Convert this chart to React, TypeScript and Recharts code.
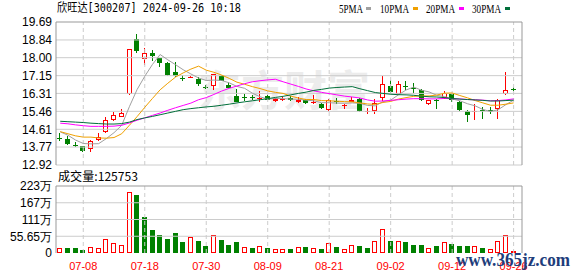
import React from "react";
import { ComposedChart, Bar, Line, XAxis, YAxis, ReferenceLine } from "recharts";

// 60 trading days, 07-03 .. 09-26
const dates = [
  "07-03", "07-04", "07-05", "07-08", "07-09", "07-10", "07-11", "07-12", "07-15", "07-16",
  "07-17", "07-18", "07-19", "07-22", "07-23", "07-24", "07-25", "07-26", "07-29", "07-30",
  "07-31", "08-01", "08-02", "08-05", "08-06", "08-07", "08-08", "08-09", "08-12", "08-13",
  "08-14", "08-15", "08-16", "08-19", "08-20", "08-21", "08-22", "08-23", "08-26", "08-27",
  "08-28", "08-29", "08-30", "09-02", "09-03", "09-04", "09-05", "09-06", "09-09", "09-10",
  "09-11", "09-12", "09-13", "09-18", "09-19", "09-20", "09-23", "09-24", "09-25", "09-26",
];

const open = [
  14.22, 14.14, 13.88, 13.8, 13.66, 14.08, 14.5, 15.05, 15.2, 16.27,
  18.88, 17.94, 18.23, 17.97, 17.73, 17.31, 17.06, 17.08, 17.0, 16.62,
  16.68, 17.15, 16.72, 16.21, 16.15, 16.12, 16.06, 16.17, 15.93, 16.0,
  16.1, 15.92, 15.98, 15.88, 15.82, 15.52, 15.95, 15.7, 15.9, 16.06,
  15.45, 15.47, 16.1, 16.68, 16.3, 16.65, 16.55, 16.45, 15.82, 16.0,
  16.1, 16.26, 15.9, 15.5, 15.44, 15.52, 15.52, 15.58, 16.29, 16.52,
];
const high = [
  14.45, 14.28, 14.0, 13.82, 14.08, 14.45, 15.2, 15.42, 15.58, 18.43,
  19.11, 18.45, 18.38, 18.0, 17.8, 17.78, 17.2, 17.14, 17.1, 16.7,
  17.25, 17.2, 16.85, 16.5, 16.28, 16.22, 16.4, 16.22, 16.1, 16.15,
  16.2, 16.12, 16.05, 16.25, 15.85, 16.05, 16.1, 15.8, 16.12, 16.1,
  15.6, 16.05, 17.15, 16.93, 16.92, 16.92, 16.78, 16.5, 16.0, 16.05,
  16.4, 16.3, 15.95, 15.52, 15.8, 15.65, 15.68, 16.05, 17.31, 16.6,
];
const low = [
  14.05, 13.88, 13.75, 13.53, 13.53, 14.05, 14.42, 15.0, 15.18, 16.25,
  18.22, 17.65, 17.83, 17.55, 17.12, 17.08, 16.92, 17.04, 16.68, 16.52,
  16.45, 16.9, 16.55, 15.88, 15.95, 16.0, 15.9, 15.98, 15.92, 15.95,
  15.97, 15.85, 15.8, 15.8, 15.55, 15.48, 15.82, 15.55, 15.88, 15.45,
  15.35, 15.33, 15.95, 16.35, 16.25, 16.45, 16.35, 15.96, 15.78, 15.55,
  16.05, 15.9, 15.5, 14.96, 15.07, 15.12, 15.33, 15.1, 16.25, 16.4,
];
const close = [
  14.2, 13.9, 13.85, 13.6, 14.06, 14.25, 15.07, 15.27, 15.36, 18.43,
  18.3, 18.22, 18.07, 17.73, 17.2, 17.11, 17.03, 17.1, 16.76, 16.6,
  17.22, 16.92, 16.57, 15.9, 16.12, 16.1, 16.09, 16.01, 16.06, 16.06,
  16.02, 16.0, 15.84, 15.9, 15.6, 16.0, 15.92, 15.78, 16.0, 15.5,
  15.48, 15.85, 16.76, 16.37, 16.76, 16.62, 16.52, 16.02, 15.98, 15.97,
  16.32, 15.98, 15.54, 15.27, 15.47, 15.49, 15.46, 16.02, 16.48, 16.5,
];

const ma5 = [
  14.49, 14.33, 14.1, 13.94, 13.92, 13.93, 14.17, 14.45, 14.8, 15.68,
  16.49, 17.12, 17.68, 18.15, 17.9, 17.67, 17.43, 17.23, 17.04, 16.92,
  16.94, 16.92, 16.81, 16.64, 16.55, 16.32, 16.15, 16.04, 16.07, 16.06,
  16.04, 16.03, 15.99, 15.96, 15.87, 15.87, 15.85, 15.84, 15.86, 15.84,
  15.74, 15.72, 15.92, 15.99, 16.24, 16.47, 16.61, 16.46, 16.38, 16.22,
  16.16, 16.05, 15.96, 15.82, 15.72, 15.55, 15.45, 15.54, 15.78, 15.99,
];
const ma10 = [
  14.5, 14.4, 14.3, 14.24, 14.24, 14.2, 14.19, 14.22, 14.4, 14.8,
  15.21, 15.65, 16.07, 16.48, 16.79, 17.08, 17.28, 17.46, 17.6, 17.41,
  17.31, 17.18, 17.02, 16.84, 16.74, 16.63, 16.54, 16.43, 16.36, 16.31,
  16.18, 16.09, 16.02, 16.02, 15.97, 15.96, 15.94, 15.92, 15.91, 15.86,
  15.81, 15.79, 15.88, 15.93, 16.04, 16.11, 16.17, 16.19, 16.19, 16.23,
  16.32, 16.33, 16.21, 16.1, 15.97, 15.86, 15.75, 15.75, 15.8, 15.86,
];
const ma20 = [
  14.9, 14.87, 14.82, 14.78, 14.75, 14.75, 14.75, 14.76, 14.8, 14.91,
  15.04, 15.15, 15.27, 15.38, 15.51, 15.63, 15.74, 15.85, 16.01, 16.11,
  16.26, 16.42, 16.55, 16.66, 16.77, 16.86, 16.91, 16.95, 16.98, 16.86,
  16.75, 16.64, 16.52, 16.43, 16.36, 16.3, 16.24, 16.18, 16.14, 16.09,
  16.0, 15.94, 15.95, 15.98, 16.01, 16.04, 16.06, 16.06, 16.05, 16.05,
  16.07, 16.06, 16.05, 16.02, 16.01, 15.99, 15.96, 15.97, 16.0, 16.05,
];
const ma30 = [
  14.99, 14.97, 14.95, 14.93, 14.9, 14.88, 14.86, 14.86, 14.88, 14.95,
  15.07, 15.15, 15.22, 15.3, 15.38, 15.46, 15.54, 15.59, 15.63, 15.67,
  15.7, 15.75, 15.8, 15.86, 15.91, 15.96, 16.01, 16.06, 16.12, 16.17,
  16.24, 16.31, 16.37, 16.45, 16.5, 16.56, 16.59, 16.61, 16.63, 16.53,
  16.44, 16.35, 16.31, 16.27, 16.25, 16.24, 16.22, 16.18, 16.15, 16.14,
  16.11, 16.07, 16.04, 16.02, 16.0, 15.98, 15.95, 15.95, 15.97, 15.99,
];

// volume in 万, and whether the bar is drawn as an up (red) day
const volume = [
  16.2, 15, 15, 11, 19.5, 16, 45, 32.5, 26, 203,
  192, 120, 75.6, 59.4, 46.5, 66, 37.8, 52, 41, 23.8,
  58.4, 43, 27, 36.7, 19.5, 17.3, 21.6, 17.3, 13, 13,
  14, 18.4, 19.5, 16.2, 14, 32.4, 19.5, 13, 26, 23.8,
  17.3, 41, 79, 41, 41, 37.8, 27, 27, 17.3, 21.6,
  36.7, 30.3, 23.8, 23.8, 23.8, 15, 14, 40, 59.4, 8,
];
const volumeUp = [
  1, 0, 0, 0, 1, 1, 1, 1, 1, 1,
  0, 0, 0, 0, 0, 0, 0, 1, 0, 0,
  1, 0, 0, 0, 1, 0, 1, 0, 1, 1,
  0, 1, 0, 1, 0, 1, 0, 1, 1, 0,
  0, 1, 1, 0, 1, 0, 0, 0, 1, 0,
  1, 0, 0, 0, 1, 0, 1, 1, 1, 1,
];

const priceTicks = [12.92, 13.77, 14.61, 15.46, 16.31, 17.15, 18.0, 18.84, 19.69];
const volumeTicks = [0, 55.65, 111.3, 166.95, 222.6];
const volumeTickLabels = ["0", "55.65万", "111万", "167万", "223万"];
const dateTicks = [3, 11, 19, 27, 35, 43, 51, 59];

const X_MIN = -0.55;
const X_MAX = 60.09;
const UP = "#ff0000";
const DOWN = "#008000";
const GRID = "#cccccc";
const BORDER = "#999999";
const AXIS_FONT = "'Liberation Sans', Arial, sans-serif";

const rows = dates.map((d, i) => ({
  i,
  date: d,
  open: open[i],
  high: high[i],
  low: low[i],
  close: close[i],
  ma5: ma5[i],
  ma10: ma10[i],
  ma20: ma20[i],
  ma30: ma30[i],
  vol: volume[i],
  up: volumeUp[i] === 1,
}));

function Candle(props: any) {
  const { x, y, width, height, payload } = props;
  if (x == null || y == null || !payload) return null;
  const { open: o, close: c, high: h, low: l } = payload;
  const top = Math.min(y, y + height);
  const span = Math.abs(height);
  const toY = (p: number) => (h === l ? top : top + ((h - p) / (h - l)) * span);
  const left = Math.round(x + width / 2 - 2.5);
  const cx = left + 2.5;
  const yHigh = Math.round(toY(h));
  const yLow = Math.round(toY(l));
  const t = Math.round(toY(Math.max(o, c)));
  const b = Math.round(toY(Math.min(o, c)));
  const isUp = c >= o;
  const color = isUp ? UP : DOWN;

  if (b - t < 2) {
    return (
      <g>
        <line x1={cx} x2={cx} y1={yHigh} y2={yLow} stroke={color} strokeWidth={1} />
        <rect x={left} y={t} width={5} height={Math.max(b - t, 1)} fill={color} />
      </g>
    );
  }
  if (isUp) {
    return (
      <g>
        <line x1={cx} x2={cx} y1={yHigh} y2={t} stroke={color} strokeWidth={1} />
        <line x1={cx} x2={cx} y1={b} y2={yLow} stroke={color} strokeWidth={1} />
        <rect x={left + 0.5} y={t + 0.5} width={4} height={b - t - 1} fill="#ffffff" stroke={color} strokeWidth={1} />
      </g>
    );
  }
  return (
    <g>
      <line x1={cx} x2={cx} y1={yHigh} y2={yLow} stroke={color} strokeWidth={1} />
      <rect x={left} y={t} width={5} height={b - t} fill={color} />
    </g>
  );
}

function VolumeBar(props: any) {
  const { x, y, width, height, payload } = props;
  if (x == null || y == null || !payload) return null;
  const left = Math.round(x + width / 2 - 2.5);
  const top = Math.round(Math.min(y, y + height));
  const bottom = Math.round(Math.max(y, y + height));
  if (payload.up) {
    return (
      <rect x={left + 0.5} y={top + 0.5} width={4} height={Math.max(bottom - top - 1, 0)} fill="#ffffff" stroke={UP} strokeWidth={1} />
    );
  }
  return <rect x={left} y={top} width={5} height={bottom - top} fill={DOWN} />;
}

const legend = [
  { name: "5PMA", x: 339, w: 24, sw: 366, color: "#a0a0a0" },
  { name: "10PMA", x: 380, w: 29, sw: 413, color: "#f0a000" },
  { name: "20PMA", x: 426, w: 29, sw: 459, color: "#ff00ff" },
  { name: "30PMA", x: 472, w: 29, sw: 505, color: "#006f3a" },
];

export default function App() {
  return (
    <div style={{ position: "absolute", left: 0, top: 0, width: 578, height: 276, background: "#fff", overflow: "hidden" }}>
      <svg width={578} height={276} style={{ position: "absolute", left: 0, top: 0 }}>
        <text x={198} y={106} fontSize={42} fontWeight="bold" fill="#ececec" fontFamily="'Noto Sans CJK SC', sans-serif" textLength={172} lengthAdjust="spacingAndGlyphs">
          东方财富
        </text>
      </svg>

      <div style={{ position: "absolute", left: 0, top: 0 }}>
        <ComposedChart width={578} height={176} data={rows} margin={{ top: 22, right: 56, bottom: 11, left: 0 }}>
          <XAxis dataKey="i" type="number" domain={[X_MIN, X_MAX]} allowDataOverflow hide />
          <YAxis
            domain={[12.92, 19.69]}
            ticks={priceTicks}
            interval={0}
            allowDataOverflow
            width={56}
            axisLine={{ stroke: BORDER }}
            tickLine={false}
            tickSize={0}
            tickMargin={4}
            tick={{ fontSize: 12, fill: "#000", fontFamily: AXIS_FONT }}
            tickFormatter={(v: number) => v.toFixed(2)}
          />
          {priceTicks.slice(0, -1).map((v) => (
            <ReferenceLine key={"h" + v} y={v} stroke={GRID} ifOverflow="visible" />
          ))}
          {dateTicks.map((t) => (
            <ReferenceLine key={"v" + t} x={t} stroke={GRID} strokeDasharray="4 3" ifOverflow="visible" />
          ))}
          <ReferenceLine y={19.69} stroke={BORDER} ifOverflow="visible" />
          <ReferenceLine x={X_MAX} stroke={BORDER} ifOverflow="visible" />
          <Bar dataKey={(d: any) => [d.low, d.high]} barSize={5} shape={<Candle />} isAnimationActive={false} />
          <Line type="linear" dataKey="ma5" stroke="#a0a0a0" strokeWidth={1} dot={false} isAnimationActive={false} />
          <Line type="linear" dataKey="ma10" stroke="#f0a000" strokeWidth={1} dot={false} isAnimationActive={false} />
          <Line type="linear" dataKey="ma20" stroke="#ff00ff" strokeWidth={1} dot={false} isAnimationActive={false} />
          <Line type="linear" dataKey="ma30" stroke="#006f3a" strokeWidth={1} dot={false} isAnimationActive={false} />
        </ComposedChart>
      </div>

      <div style={{ position: "absolute", left: 0, top: 170 }}>
        <ComposedChart width={578} height={106} data={rows} margin={{ top: 16, right: 56, bottom: 0, left: 0 }}>
          <XAxis
            dataKey="i"
            type="number"
            domain={[X_MIN, X_MAX]}
            allowDataOverflow
            ticks={dateTicks}
            interval={0}
            height={23}
            axisLine={false}
            tickLine={false}
            tickSize={0}
            tickMargin={9}
            tick={{ fontSize: 11, fill: UP, fontFamily: AXIS_FONT }}
            tickFormatter={(v: number) => dates[v]}
          />
          <YAxis
            domain={[0, 222.6]}
            ticks={volumeTicks}
            interval={0}
            allowDataOverflow
            width={56}
            axisLine={{ stroke: BORDER }}
            tickLine={false}
            tickSize={0}
            tickMargin={4}
            tick={{ fontSize: 12, fill: "#000", fontFamily: AXIS_FONT }}
            tickFormatter={(v: number) => volumeTickLabels[volumeTicks.indexOf(v)]}
          />
          {volumeTicks.slice(1, -1).map((v) => (
            <ReferenceLine key={"vh" + v} y={v} stroke={GRID} ifOverflow="visible" />
          ))}
          {dateTicks.map((t) => (
            <ReferenceLine key={"vv" + t} x={t} stroke={GRID} strokeDasharray="4 3" ifOverflow="visible" />
          ))}
          <ReferenceLine y={222.6} stroke={BORDER} ifOverflow="visible" />
          <ReferenceLine x={X_MAX} stroke={BORDER} ifOverflow="visible" />
          <Bar dataKey="vol" barSize={5} shape={<VolumeBar />} isAnimationActive={false} />
        </ComposedChart>
      </div>

      <svg width={578} height={276} style={{ position: "absolute", left: 0, top: 0, pointerEvents: "none" }}>
        <text x={57} y={12} fontSize={12} fill="#000" fontFamily="'DejaVu Sans Mono', 'Noto Sans CJK SC', monospace" textLength={184} lengthAdjust="spacingAndGlyphs">
          欣旺达[300207] 2024-09-26 10:18
        </text>
        {legend.map((l) => (
          <g key={l.name}>
            <text x={l.x} y={12.5} fontSize={12} fill="#000" fontFamily="'Liberation Serif', serif" textLength={l.w} lengthAdjust="spacingAndGlyphs">
              {l.name}
            </text>
            <rect x={l.sw} y={7} width={5} height={3} fill={l.color} />
          </g>
        ))}
        <text x={58} y={181} fontSize={12} fill="#000" fontFamily="'Noto Sans CJK SC', sans-serif" textLength={80} lengthAdjust="spacingAndGlyphs">
          成交量:125753
        </text>
        <text x={456} y={266} fontSize={18} fontWeight="bold" fill="#1e3d7b" fontFamily="'Liberation Serif', serif" textLength={114} lengthAdjust="spacingAndGlyphs">
          www.365jz.com
        </text>
      </svg>
    </div>
  );
}
